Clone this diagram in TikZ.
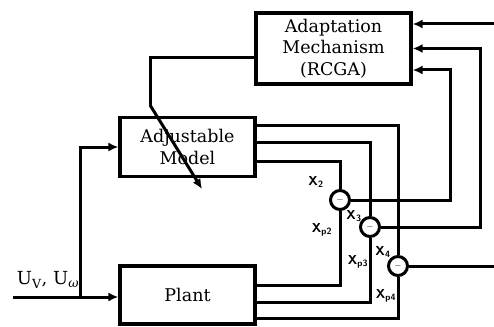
\documentclass[tikz,border=0pt]{standalone}
\usepackage{amsmath}
\usepackage{fontspec}
\usepackage{tikz}
\usetikzlibrary{arrows.meta,calc,positioning}
\newfontfamily\blockfont{DejaVu Serif}

\begin{document}
\begin{tikzpicture}[
    x=1pt, y=-1pt,
    >={Latex[length=10pt,width=9pt]},
    line width=3pt,
    block/.style={
        draw=black,
        line width=3.2pt,
        minimum width=135pt,
        minimum height=58pt,
        align=center,
        inner sep=2pt,
        font=\blockfont\fontsize{17.5}{21.5}\selectfont
    },
    adapt_block/.style={
        block,
        minimum width=155pt,
        minimum height=71pt
    },
    sumnode/.style={
        draw=black,
        circle,
        line width=3pt,
        minimum size=19pt,
        inner sep=0pt,
        fill=white,
        font=\small
    },
    sig/.style={
        font=\sffamily\bfseries\fontsize{13}{14}\selectfont,
        inner sep=0pt
    }
]
\useasboundingbox (0,0) rectangle (494,326);

% Blocks
\node[adapt_block] (adapt) at (333.5,48.5) {Adaptation\\Mechanism\\(RCGA)};
\node[block, minimum height=59pt] (model) at (187.5,147) {};
\node[block] (plant) at (187.5,295) {Plant};

% Comparators
\node[sumnode] (c1) at (340,200) {$-$};
\node[sumnode] (c2) at (370,227) {$-$};
\node[sumnode] (c3) at (398,266) {$-$};

% Adjustable arrow through the model
\coordinate (knee) at (150,105);
\coordinate (tip) at (202,189);
\draw (adapt.west |- 0,58) -| (knee);
\draw[->] (knee) -- (tip);
\node[font=\blockfont\fontsize{17.5}{21.5}\selectfont, align=center] (modeltxt) at (model) {Adjustable\\Model};

% Input
\coordinate (in) at (13,297);
\coordinate (br) at (80,297);
\draw[->] (in) -- (plant.west |- in);
\draw[->] (br) |- (model.west);
\node[font=\blockfont\fontsize{18}{20}\selectfont, inner sep=0pt] (u) at (48,280) {U\textsubscript{V}, U\textsubscript{\itshape ω}};

% Model outputs
\draw (model.east |- 0,125) -| (c3.north);
\draw (model.east |- 0,142) -| (c2.north);
\draw (model.east |- 0,161) -| (c1.north);

% Plant outputs
\draw (plant.east |- 0,285) -| (c1.south);
\draw (plant.east |- 0,302) -| (c2.south);
\draw (plant.east |- 0,318) -| (c3.south);

% Errors back to the adaptation mechanism
\coordinate (r1) at (494,24);
\coordinate (r3) at (494,266);
\draw[->] (r1) -- (adapt.east |- r1);
\draw[->] (c2.east) -| (480,90) |- (adapt.east);
\draw[->] (c1.east) -| (450,90) |- ($(adapt.east)+(0,21.5)$);
\draw (c3.east) -- (r3);

% Signal labels
\node[sig] (lx2) at (316,182) {X\textsubscript{2}};
\node[sig] (lx3) at (354,216) {X\textsubscript{3}};
\node[sig] (lxp2) at (322,230) {X\textsubscript{p2}};
\node[sig] (lxp3) at (358,262) {X\textsubscript{p3}};
\node[sig] (lx4) at (383,252) {X\textsubscript{4}};
\node[sig] (lxp4) at (386,296) {X\textsubscript{p4}};

\end{tikzpicture}
\end{document}
